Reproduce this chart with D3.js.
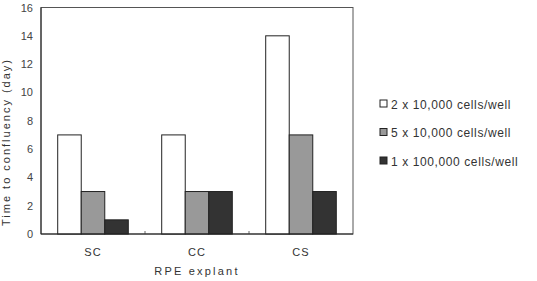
<!DOCTYPE html>
<html>
<head>
<meta charset="utf-8">
<script src="https://cdn.jsdelivr.net/npm/d3@7"></script>
<style>
  body { margin: 0; background: #fff; }
  text { font-family: "Liberation Sans", Arial, sans-serif; fill: #333; }
</style>
</head>
<body>
<div id="chart"></div>
<script>
// chart data
var categories = ["SC", "CC", "CS"];
var seriesNames = ["2 x 10,000 cells/well", "5 x 10,000 cells/well", "1 x 100,000 cells/well"];
var seriesColors = ["#ffffff", "#999999", "#333333"];
var values = [
  [7, 7, 14],  // 2 x 10,000
  [3, 3, 7],   // 5 x 10,000
  [1, 3, 3]    // 1 x 100,000
];
var yTicks = [0, 2, 4, 6, 8, 10, 12, 14, 16];

var W = 537, H = 281;
var m = {left: 41, top: 7.5, right: 353, bottom: 234};

var svg = d3.select("#chart").append("svg")
  .attr("width", W).attr("height", H);

var x0 = d3.scaleBand().domain(categories).range([m.left, m.right]).paddingInner(0).paddingOuter(0);
var x1 = d3.scaleBand().domain(d3.range(seriesNames.length))
  .range([0, x0.bandwidth()]).paddingOuter(0.71).paddingInner(0);
var y = d3.scaleLinear().domain([0, 16]).range([m.bottom, m.top]);

// plot frame
svg.append("rect")
  .attr("x", m.left).attr("y", m.top)
  .attr("width", m.right - m.left).attr("height", m.bottom - m.top)
  .style("fill", "none").style("stroke", "#555").style("stroke-width", 1);

// y tick labels
svg.append("g").selectAll("text").data(yTicks).enter().append("text")
  .attr("x", 33).attr("y", function(d) { return y(d) + 4; })
  .attr("text-anchor", "end")
  .style("font-size", "11px")
  .style("fill", "#444")
  .text(function(d) { return d; });

// bars
seriesNames.forEach(function(s, i) {
  svg.append("g").selectAll("rect").data(values[i]).enter().append("rect")
    .attr("x", function(d, j) { return x0(categories[j]) + x1(i); })
    .attr("y", function(d) { return y(d); })
    .attr("width", x1.bandwidth())
    .attr("height", function(d) { return y(0) - y(d); })
    .style("fill", seriesColors[i])
    .style("stroke", "#222").style("stroke-width", 1);
});

// category separator ticks
svg.append("g").selectAll("line").data(categories.slice(1)).enter().append("line")
  .attr("x1", function(d) { return x0(d); }).attr("x2", function(d) { return x0(d); })
  .attr("y1", m.bottom).attr("y2", m.bottom - 3)
  .style("stroke", "#666");

// bottom and left axis lines (darker)
svg.append("line")
  .attr("x1", m.left).attr("x2", m.right).attr("y1", m.bottom).attr("y2", m.bottom)
  .style("stroke", "#222");
svg.append("line")
  .attr("x1", m.left).attr("x2", m.left).attr("y1", m.top).attr("y2", m.bottom)
  .style("stroke", "#222");

// category labels
svg.append("g").selectAll("text").data(categories).enter().append("text")
  .attr("x", function(d) { return x0(d) + x0.bandwidth() / 2; })
  .attr("y", 256)
  .attr("text-anchor", "middle")
  .style("font-size", "11px")
  .style("letter-spacing", "1px")
  .text(function(d) { return d; });

// axis titles
svg.append("text")
  .attr("x", 197).attr("y", 275)
  .attr("text-anchor", "middle")
  .style("font-size", "11px")
  .style("letter-spacing", "2.2px")
  .text("RPE explant");

svg.append("text")
  .attr("transform", "translate(10,142) rotate(-90)")
  .attr("text-anchor", "middle")
  .style("font-size", "11px")
  .style("letter-spacing", "2px")
  .text("Time to confluency (day)");

// legend
var legend = svg.append("g").selectAll("g").data(seriesNames).enter().append("g")
  .attr("transform", function(d, i) { return "translate(380," + (100 + i * 28.5) + ")"; });
legend.append("rect")
  .attr("width", 7).attr("height", 7)
  .style("fill", function(d, i) { return seriesColors[i]; })
  .style("stroke", "#222");
legend.append("text")
  .attr("x", 11).attr("y", 8.5)
  .style("font-size", "12px")
  .style("letter-spacing", "0.6px")
  .text(function(d) { return d; });
</script>
</body>
</html>
